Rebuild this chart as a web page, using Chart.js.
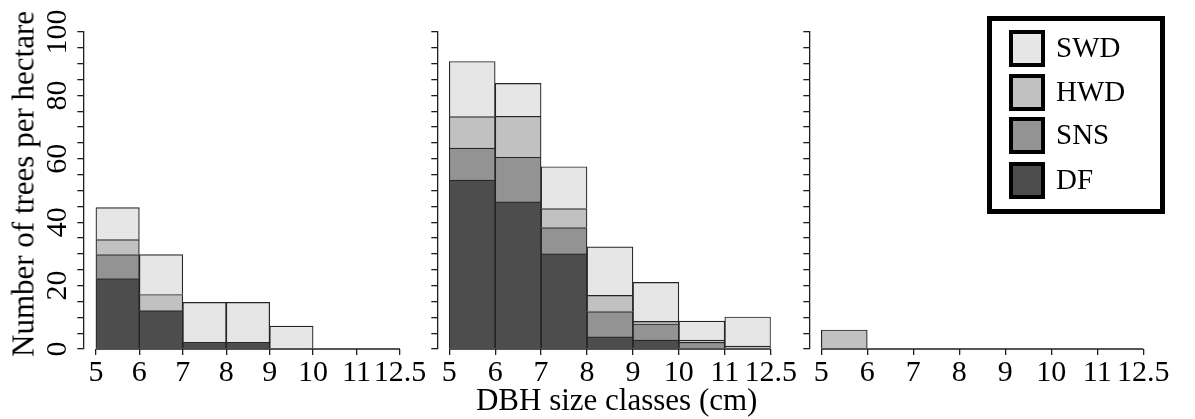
<!DOCTYPE html>
<html>
<head>
<meta charset="utf-8">
<title>DBH size classes</title>
<script src="https://cdn.jsdelivr.net/npm/chart.js@4.4.1/dist/chart.umd.min.js"></script>
<style>
  html, body { margin: 0; padding: 0; background: #fff; }
  #wrap { position: relative; width: 1195px; height: 419px; overflow: hidden; font-family: "Liberation Serif", "Times New Roman", serif; color: #000; }
  canvas { position: absolute; top: 0; }
  .ytitle { position: absolute; left: 22.8px; top: 184px; font-size: 31px; line-height: 31px; white-space: nowrap;
            transform: translate(-50%, -50%) rotate(-90deg); }
  .xtitle { position: absolute; left: 616.7px; top: 383.5px; font-size: 31px; line-height: 31px; white-space: nowrap;
            transform: translateX(-50%); }
  #legend { position: absolute; left: 987px; top: 16px; width: 178px; height: 198px; box-sizing: border-box; border: 5px solid #000; }
  .swatch { position: absolute; left: 17px; width: 36px; height: 37px; box-sizing: border-box; border: 4px solid #000; }
  .lbl { position: absolute; left: 64px; height: 37px; line-height: 35px; font-size: 29px; }
</style>
</head>
<body>
<div id="wrap">
  <canvas id="left" width="440" height="419" style="left:0px"></canvas>
  <canvas id="mid" width="410" height="419" style="left:400px"></canvas>
  <canvas id="right" width="405" height="419" style="left:790px"></canvas>
  <div class="ytitle">Number of trees per hectare</div>
  <div class="xtitle">DBH size classes (cm)</div>
  <div id="legend"></div>
</div>
<script>
// bin edges of the DBH classes (last class is 11-12.5)
const binEdges = ['5', '6', '7', '8', '9', '10', '11', '12.5'];

// stacking order, bottom to top
const groups = ['DF', 'SNS', 'HWD', 'SWD'];
const groupFills = ['#4d4d4d', '#939393', '#c1c1c1', '#e6e6e6'];

// trees per hectare by class, one array per group and panel
const leftDF  = [22.2, 12.1, 2.1, 2.1, 0, 0, 0];
const leftSNS = [7.6, 0, 0, 0, 0, 0, 0];
const leftHWD = [4.7, 5.1, 0, 0, 0, 0, 0];
const leftSWD = [10.1, 12.6, 12.6, 12.6, 7.2, 0, 0];

const midDF  = [53.3, 46.4, 30.0, 3.8, 2.8, 0, 0];
const midSNS = [10.1, 14.1, 8.3, 8.0, 5.1, 2.1, 0];
const midHWD = [9.9, 12.9, 6.0, 5.1, 0.8, 0.7, 0.9];
const midSWD = [17.4, 10.4, 13.2, 15.3, 12.3, 6.0, 9.2];

const rightDF  = [0, 0, 0, 0, 0, 0, 0];
const rightSNS = [0, 0, 0, 0, 0, 0, 0];
const rightHWD = [6.0, 0, 0, 0, 0, 0, 0];
const rightSWD = [0, 0, 0, 0, 0, 0, 0];

const SERIF = '"Liberation Serif", "Times New Roman", serif';
const AXIS = '#1e1e1e';

// R-style x axis: line only spans the first to last bin edge
const binAxisLine = {
  id: 'binAxisLine',
  afterDraw(chart) {
    const { ctx, scales: { x, y } } = chart;
    const y0 = y.getPixelForValue(0);
    ctx.save();
    ctx.strokeStyle = AXIS;
    ctx.lineWidth = 1.3;
    ctx.beginPath();
    ctx.moveTo(x.getPixelForValue(0), y0);
    ctx.lineTo(x.getPixelForValue(binEdges.length - 1), y0);
    ctx.stroke();
    ctx.restore();
  }
};

function buildPanel(id, series, yAxisWidth, xMin, padRight, showYLabels) {
  const nBins = binEdges.length - 1;
  return new Chart(document.getElementById(id), {
    type: 'bar',
    data: {
      datasets: series.map((vals, i) => ({
        label: groups[i],
        data: vals.map((v, k) => ({ x: k + 0.5, y: v })),
        backgroundColor: groupFills[i],
        borderColor: '#262626',
        borderWidth: 1.2,
        barPercentage: 1,
        categoryPercentage: 1
      }))
    },
    options: {
      responsive: false,
      animation: false,
      layout: { padding: { top: 32, right: padRight, bottom: 0, left: 0 } },
      plugins: { legend: { display: false }, tooltip: { enabled: false } },
      scales: {
        x: {
          type: 'linear',
          stacked: true,
          min: xMin,
          max: nBins,
          offset: false,
          border: { display: false },
          grid: { offset: false, drawOnChartArea: false, drawTicks: true, tickLength: 6, color: AXIS, lineWidth: 1.3 },
          afterBuildTicks: s => { s.ticks = binEdges.map((_, i) => ({ value: i })); },
          afterFit: s => { s.height = 70; },
          ticks: {
            autoSkip: false, maxRotation: 0, padding: 0, color: '#000',
            font: { family: SERIF, size: 30 },
            callback: v => binEdges[v]
          }
        },
        y: {
          stacked: true,
          min: 0,
          max: 100,
          border: { display: true, color: AXIS, width: 1.3 },
          grid: { drawOnChartArea: false, tickLength: 6, color: AXIS, lineWidth: 1.3 },
          afterFit: s => { s.width = yAxisWidth; },
          ticks: {
            display: showYLabels, autoSkip: false, stepSize: 5, minRotation: 90, maxRotation: 90,
            crossAlign: 'center', padding: -3, color: '#000',
            font: { family: SERIF, size: 30 },
            callback: v => (v % 20 === 0 ? v : '')
          }
        }
      }
    },
    plugins: [binAxisLine]
  });
}

buildPanel('left',  [leftDF, leftSNS, leftHWD, leftSWD],     83.3, -0.29, 40, true);
buildPanel('mid',   [midDF, midSNS, midHWD, midSWD],         37.3, -0.26, 39.3, false);
buildPanel('right', [rightDF, rightSNS, rightHWD, rightSWD], 19.3, -0.26, 51.7, false);

// legend, top entry is the top of the stack
const legend = document.getElementById('legend');
const legendTops = [8.6, 53, 96, 141.3];
groups.slice().reverse().forEach((name, i) => {
  const fill = groupFills[groups.length - 1 - i];
  const sw = document.createElement('div');
  sw.className = 'swatch';
  sw.style.top = legendTops[i] + 'px';
  sw.style.background = fill;
  const tx = document.createElement('div');
  tx.className = 'lbl';
  tx.style.top = legendTops[i] + 'px';
  tx.textContent = name;
  legend.appendChild(sw);
  legend.appendChild(tx);
});
</script>
</body>
</html>
